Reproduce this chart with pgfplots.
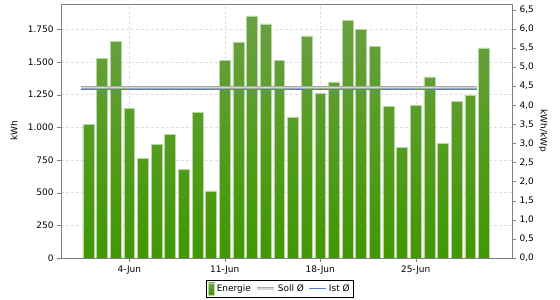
\documentclass[border=0pt]{standalone}
\usepackage{fontspec}
\setmainfont{DejaVu Sans}
\usepackage{pgfplots}
\pgfplotsset{compat=1.18}
\definecolor{bartop}{RGB}{106,160,66}
\definecolor{barbot}{RGB}{64,152,0}
\definecolor{baredge}{RGB}{185,215,165}
\definecolor{sollc}{RGB}{168,168,168}
\definecolor{sollin}{RGB}{212,212,212}
\definecolor{istc}{RGB}{79,129,189}
\definecolor{axc}{RGB}{128,128,128}
\begin{document}
\begin{tikzpicture}[font=\fontsize{9}{11}\selectfont]
\path[use as bounding box] (0,0) rectangle (560bp,300bp);
\begin{axis}[
  at={(61bp,42bp)}, anchor=south west, scale only axis,
  width=451bp, height=254bp,
  xmin=-1.01, xmax=32.06, ymin=0, ymax=1943.6,
  xtick={4,11,18,25}, xticklabels={4-Jun,11-Jun,18-Jun,25-Jun},
  ytick distance=250, ytick pos=left, xtick pos=bottom,
  tick align=outside, major tick length=4bp,
  grid=major, major grid style={densely dashed, gray!25},
  axis line style={axc}, tick style={axc},
  /pgf/number format/assume math mode=true,
  /pgf/number format/1000 sep={.},
  ylabel={kWh},
  every axis y label/.style={at={(axis description cs:0,0.5)}, xshift=-47bp, rotate=90, anchor=center},
  legend style={at={(0.4856,-0.122)}, anchor=center, legend columns=3, draw=black, line width=0.6bp,
    font=\fontsize{9}{11}\selectfont, inner sep=2bp,
    /tikz/every even column/.append style={column sep=3bp}},
  legend cell align=left,
]
\addplot[ybar, bar width=0.8, draw=baredge, line width=0.6bp, top color=bartop, bottom color=barbot,
  legend image code/.code={\draw[top color=bartop, bottom color=barbot, draw=baredge, line width=0.5bp] (0bp,-6bp) rectangle (6bp,6bp);}]
coordinates {
(1,1020) (2,1528) (3,1655) (4,1145) (5,763) (6,871) (7,944) (8,676) (9,1115) (10,513)
(11,1515) (12,1653) (13,1852) (14,1791) (15,1513) (16,1079) (17,1699) (18,1260) (19,1347) (20,1821)
(21,1750) (22,1620) (23,1161) (24,847) (25,1168) (26,1385) (27,877) (28,1196) (29,1242) (30,1607)
};
\addlegendentry{Energie}
\addplot[sollc, line width=3.2bp,
  legend image code/.code={\draw[sollc, line width=3bp] (0bp,0bp) -- (17bp,0bp); \draw[sollin, line width=1.2bp] (0bp,0bp) -- (17bp,0bp);}]
coordinates {(0.46,1303) (29.47,1303)};
\addlegendentry{Soll Ø}
\addplot[sollin, line width=1.2bp, forget plot] coordinates {(0.46,1303) (29.47,1303)};
\addplot[istc, line width=1.1bp,
  legend image code/.code={\draw[istc, line width=1bp] (0bp,0bp) -- (17bp,0bp);}]
coordinates {(0.46,1291) (29.47,1291)};
\addlegendentry{Ist Ø}
\end{axis}
\begin{axis}[
  at={(61bp,42bp)}, anchor=south west, scale only axis,
  width=451bp, height=254bp,
  xmin=-1.01, xmax=32.06, ymin=0, ymax=6.649,
  axis y line*=right, axis x line=none,
  ytick distance=0.5,
  tick align=outside, major tick length=4bp,
  axis line style={axc}, tick style={axc},
  /pgf/number format/assume math mode=true,
  /pgf/number format/.cd, fixed, fixed zerofill, precision=1, use comma,
  /pgfplots/.cd,
  ylabel={kWh/kWp},
  every axis y label/.style={at={(axis description cs:1,0.5)}, xshift=31bp, rotate=-90, anchor=center},
]
\addplot[draw=none, forget plot] coordinates {(0,0)};
\end{axis}
\end{tikzpicture}
\end{document}
